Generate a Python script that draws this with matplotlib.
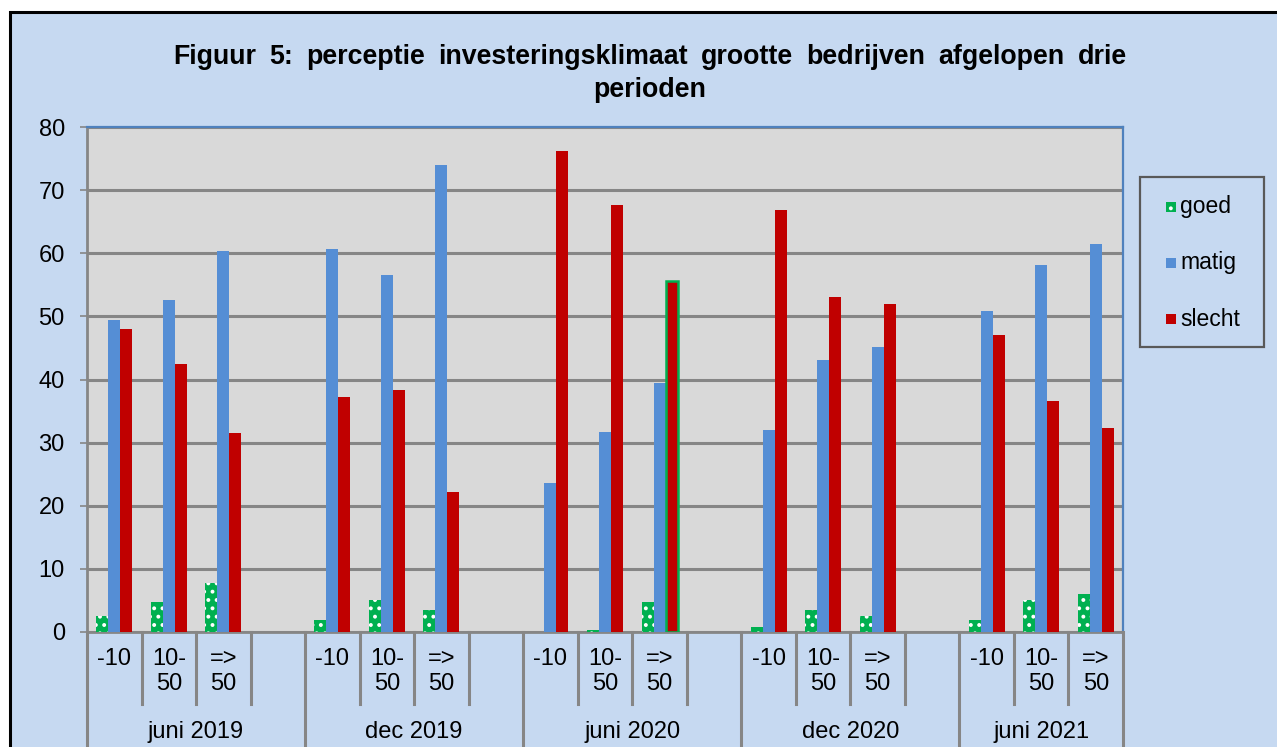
import matplotlib
matplotlib.use("Agg")
import matplotlib.pyplot as plt
from matplotlib.patches import Rectangle
from matplotlib.lines import Line2D

plt.rcParams['font.family'] = ['Liberation Sans', 'DejaVu Sans']
plt.rcParams['hatch.linewidth'] = 1.6

periods = ['juni 2019', 'dec 2019', 'juni 2020', 'dec 2020', 'juni 2021']
sizes = ['-10', '10-\n50', '=>\n50']
series = ['goed', 'matig', 'slecht']

goed = [2.5, 4.8, 7.8, 1.9, 5.0, 3.5, 0.0, 0.3, 4.8, 0.8, 3.5, 2.5, 1.9, 5.0, 6.0]
matig = [49.4, 52.6, 60.4, 60.7, 56.5, 74.0, 23.6, 31.7, 39.4, 32.0, 43.1, 45.1, 50.8, 58.1, 61.4]
slecht = [48.0, 42.5, 31.5, 37.2, 38.4, 22.2, 76.2, 67.7, 55.6, 66.9, 53.1, 52.0, 47.1, 36.6, 32.3]

title_line1 = 'Figuur 5: perceptie investeringsklimaat grootte bedrijven afgelopen drie'
title_line2 = 'perioden'

W, H = 1277, 747
fig = plt.figure(figsize=(W / 100, H / 100), dpi=100)
fig.patch.set_facecolor('white')

def fx(px):
    return px / W

def fy(py):
    return 1 - py / H

FS = 17
TFS = 19.3
BG = '#C6D9F1'
fig.add_artist(Rectangle((fx(10), fy(H + 20)), fx(W + 20) - fx(10), fy(12) - fy(H + 20),
                         transform=fig.transFigure, facecolor=BG, edgecolor='black',
                         lw=2.2, zorder=0))

L, R, T, B = 87, 1123, 127, 632
ax = fig.add_axes([fx(L), fy(B), fx(R) - fx(L), fy(T) - fy(B)])
ax.set_facecolor('#D9D9D9')

xs = []
for p in range(len(periods)):
    for s in range(len(sizes)):
        xs.append(p * 4 + s)

bw = 0.22
GREEN = '#00B050'
BLUE = '#558ED5'
RED = '#C00000'
ax.bar([x - bw for x in xs], goed, width=bw, color=GREEN, edgecolor='white',
       linewidth=0, hatch='..', zorder=3)
ax.bar(xs, matig, width=bw, color=BLUE, linewidth=0, zorder=3)
bars_r = ax.bar([x + bw for x in xs], slecht, width=bw, color=RED, linewidth=0, zorder=3)
bars_r[8].set_edgecolor(GREEN)
bars_r[8].set_linewidth(1.8)

nslots = 19
ax.set_xlim(-0.5, nslots - 0.5)
ax.set_ylim(0, 80)
ax.set_yticks(range(0, 81, 10))
ax.yaxis.grid(True, color='#868686', lw=2.2, zorder=1)
ax.set_axisbelow(True)
ax.set_xticks([])
ax.tick_params(axis='y', labelsize=FS, length=5, width=1.2, color='#868686',
               pad=11, labelcolor='black')
for sname in ['left', 'bottom']:
    ax.spines[sname].set_color('#868686')
    ax.spines[sname].set_linewidth(2)
for sname in ['top', 'right']:
    ax.spines[sname].set_color('#4F81BD')
    ax.spines[sname].set_linewidth(1.6)

slot_px = (R - L) / nslots
def xpx(x):
    return L + (x + 0.5) * slot_px

group_bounds = [-0.5, 3.5, 7.5, 11.5, 15.5, 18.5]
for k in range(nslots + 1):
    xb = k - 0.5
    long_line = xb in group_bounds
    yend = H + 5 if long_line else 704
    fig.add_artist(Line2D([fx(xpx(xb)), fx(xpx(xb))], [fy(B), fy(yend)],
                          transform=fig.transFigure, color='#868686', lw=2.2, zorder=5))

for i, x in enumerate(xs):
    fig.text(fx(xpx(x)), fy(648), sizes[i % 3], ha='center', va='top', fontsize=FS,
             linespacing=1.15)

for p, name in enumerate(periods):
    start = p * 4 - 0.5
    end = min(p * 4 + 3.5, nslots - 0.5)
    fig.text(fx(xpx((start + end) / 2)), fy(732), name, ha='center', va='center',
             fontsize=FS)

# title: justified first line
renderer = fig.canvas.get_renderer()
words = title_line1.split(' ')
tx0, tx1 = 173, 1127
wtexts = [fig.text(0, fy(57), w, ha='left', va='center', fontsize=TFS, fontweight='bold')
          for w in words]
widths = [t.get_window_extent(renderer).width for t in wtexts]
gap = (tx1 - tx0 - sum(widths)) / (len(words) - 1)
cur = tx0
for t, w in zip(wtexts, widths):
    t.set_x(fx(cur))
    cur += w + gap
fig.text(fx(650), fy(90), title_line2, ha='center', va='center', fontsize=TFS,
         fontweight='bold')

# legend
fig.add_artist(Rectangle((fx(1140), fy(347)), fx(1264) - fx(1140), fy(177) - fy(347),
                         transform=fig.transFigure, facecolor=BG, edgecolor='#595959',
                         lw=1.6, zorder=4))
leg_colors = [GREEN, BLUE, RED]
leg_y = [207, 263, 319]
for name, c, yy in zip(series, leg_colors, leg_y):
    kw = dict(hatch='..', edgecolor='white', linewidth=0) if name == 'goed' else dict(linewidth=0)
    fig.add_artist(Rectangle((fx(1166), fy(yy + 5)), fx(10), 10 / H,
                             transform=fig.transFigure, facecolor=c, zorder=6, **kw))
    fig.text(fx(1180), fy(yy), name, ha='left', va='center', fontsize=16.5, zorder=6)

fig.savefig('out.png', dpi=100, facecolor=fig.get_facecolor())
